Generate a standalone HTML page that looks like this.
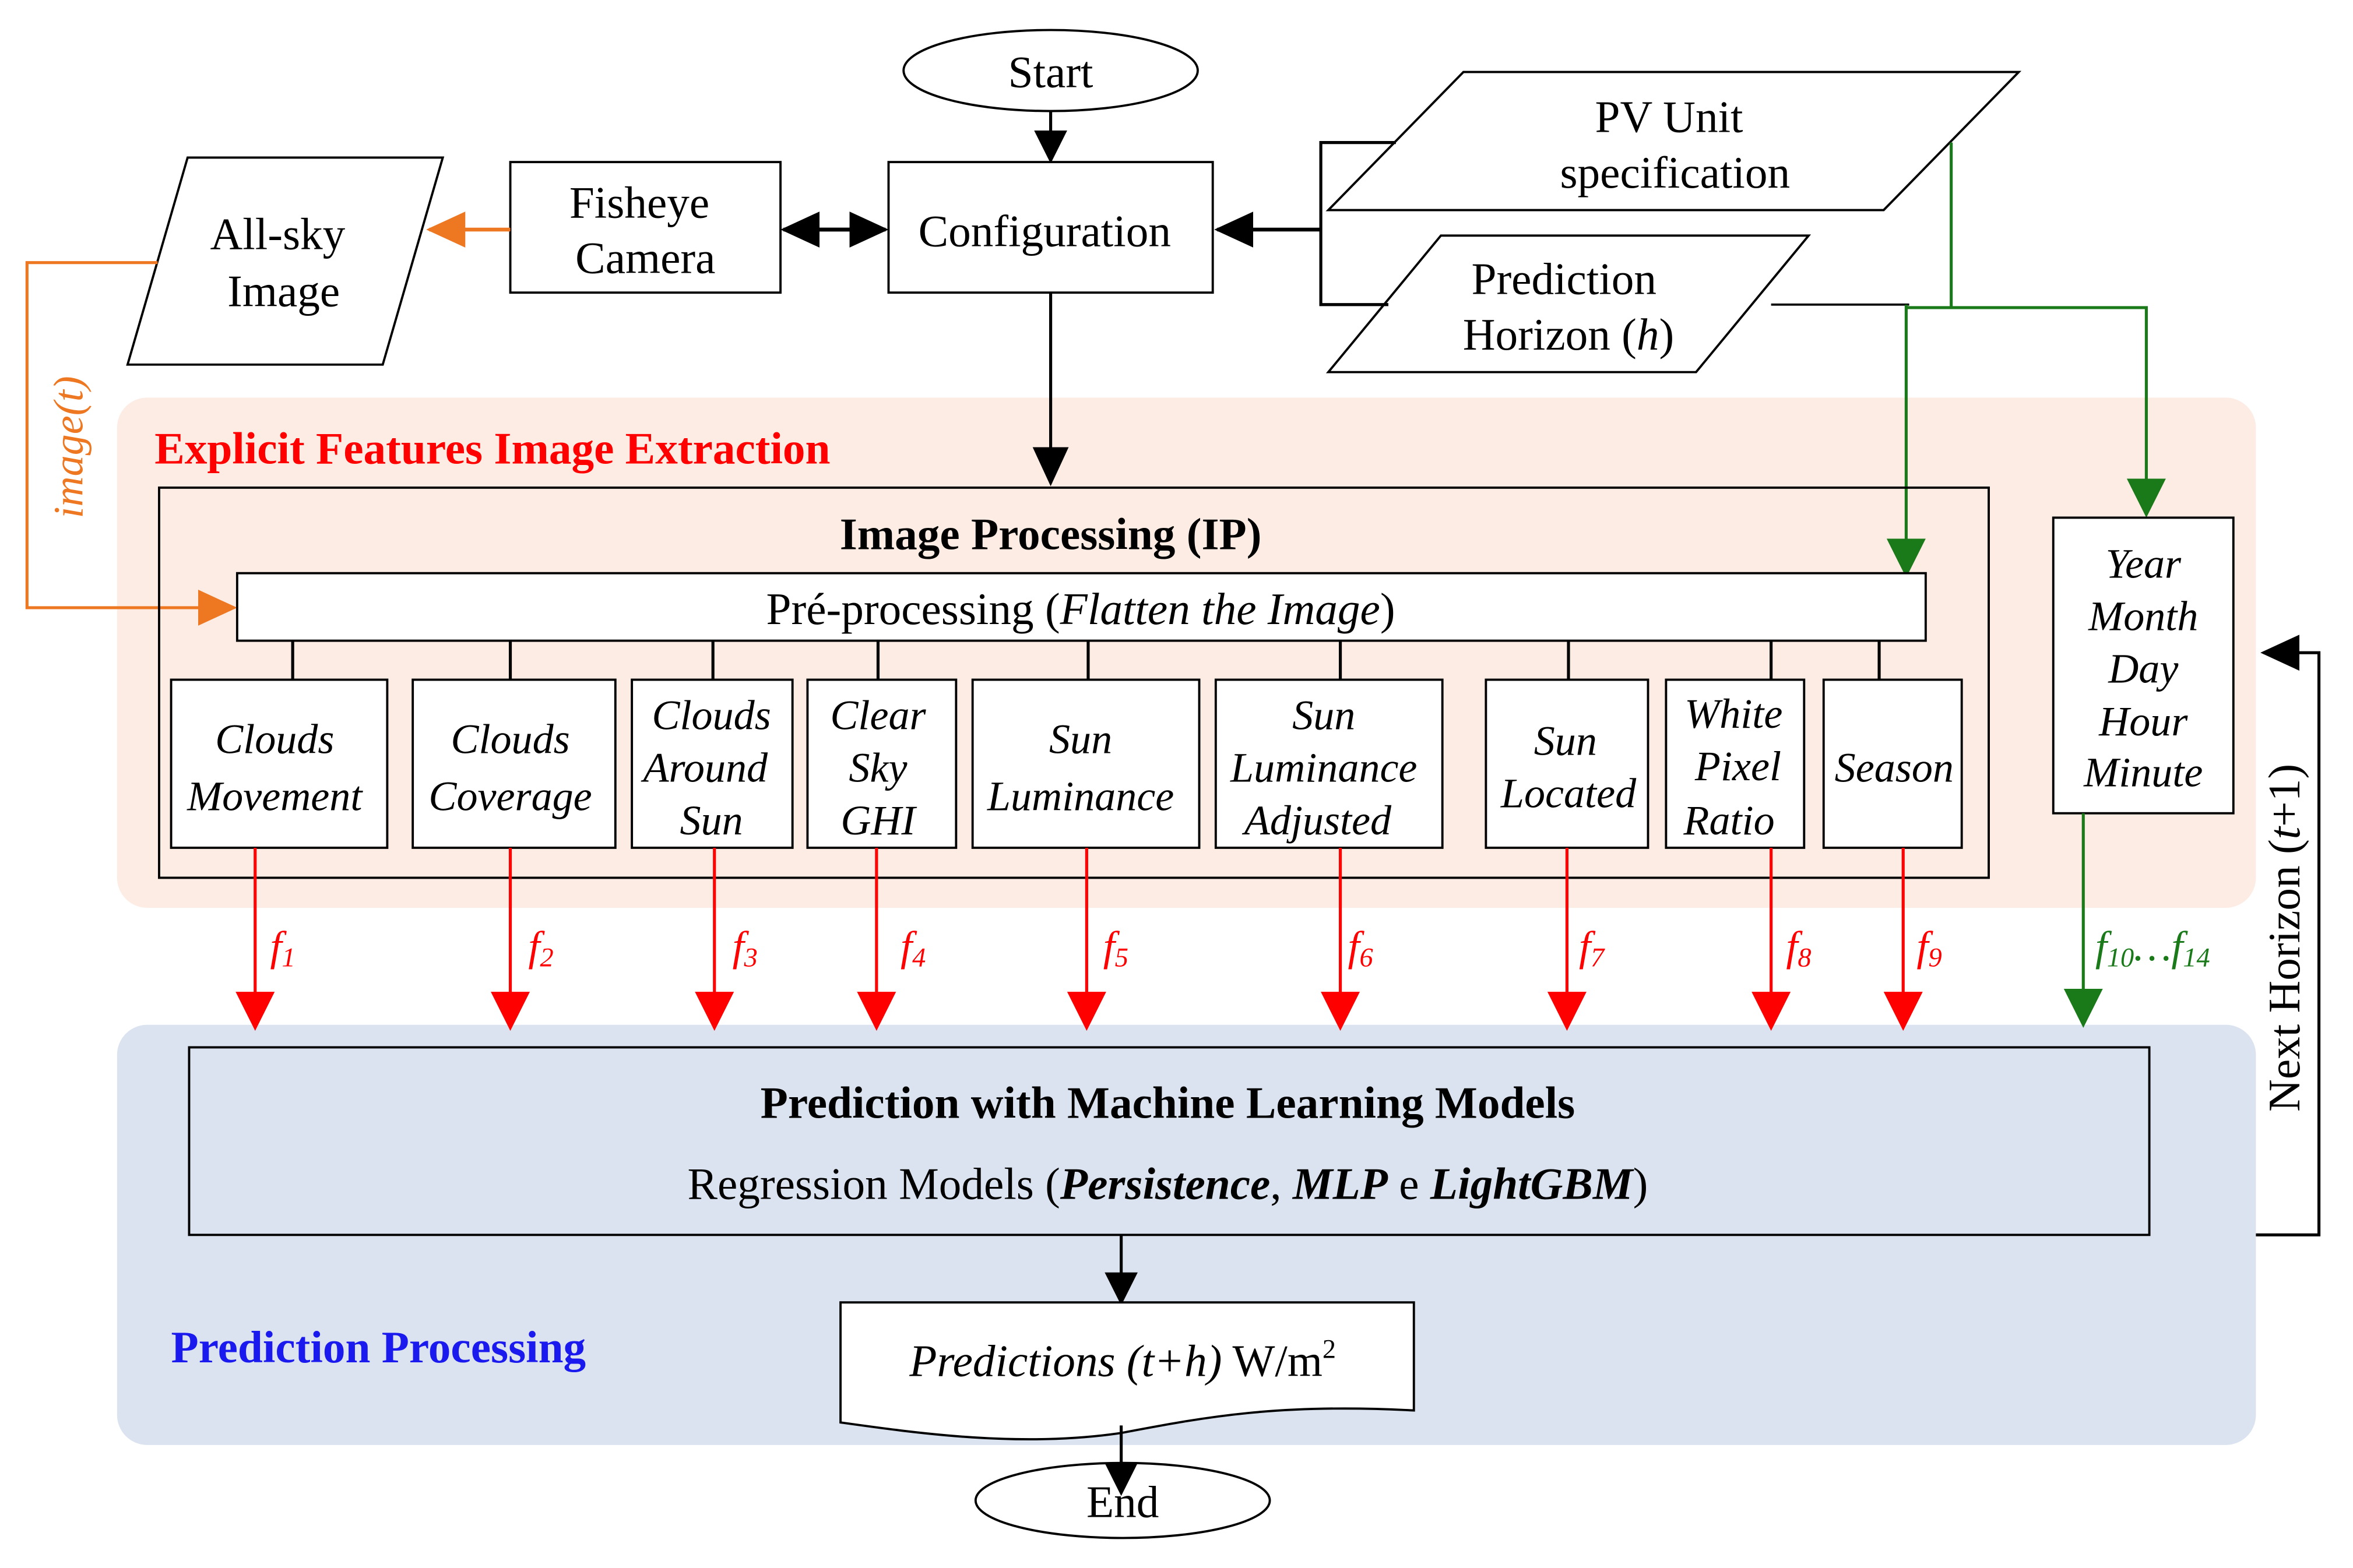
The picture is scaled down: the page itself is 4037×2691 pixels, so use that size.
<!DOCTYPE html>
<html><head><meta charset="utf-8"><style>
html,body{margin:0;padding:0;background:#fff;}
svg{display:block;}
text{font-family:"Liberation Serif",serif;fill:#000;}
.it{font-style:italic;}
</style></head><body>
<svg width="4037" height="2691" viewBox="0 0 1567 1045" preserveAspectRatio="xMinYMin meet" xmlns="http://www.w3.org/2000/svg">
<defs>
<marker id="abL" markerWidth="26" markerHeight="24" refX="24" refY="12" orient="auto" markerUnits="userSpaceOnUse"><path d="M0,0 L26,12 L0,24 z" fill="#000"/></marker>
<marker id="ar" markerWidth="26" markerHeight="26" refX="24" refY="13" orient="auto" markerUnits="userSpaceOnUse"><path d="M0,0 L26,13 L0,26 z" fill="#f00"/></marker>
<marker id="ag" markerWidth="26" markerHeight="26" refX="24" refY="13" orient="auto" markerUnits="userSpaceOnUse"><path d="M0,0 L26,13 L0,26 z" fill="#1a7a1a"/></marker>
<marker id="ao" markerWidth="26" markerHeight="24" refX="24" refY="12" orient="auto" markerUnits="userSpaceOnUse"><path d="M0,0 L26,12 L0,24 z" fill="#ee7722"/></marker>
<marker id="am" markerWidth="22" markerHeight="22" refX="20" refY="11" orient="auto" markerUnits="userSpaceOnUse"><path d="M0,0 L22,11 L0,22 z" fill="#000"/></marker>
</defs>

<rect x="78" y="265" width="1425" height="340" rx="20" fill="#fdece3"/>
<rect x="78" y="683" width="1425" height="280" rx="20" fill="#dae3ef"/>

<ellipse cx="700" cy="47" rx="98" ry="27" fill="#fff" stroke="#000" stroke-width="1.5"/>
<text x="700" y="58" font-size="30" text-anchor="middle">Start</text>
<line x1="700" y1="74" x2="700" y2="107" stroke="#000" stroke-width="2" marker-end="url(#am)"/>

<rect x="592" y="108" width="216" height="87" fill="#fff" stroke="#000" stroke-width="1.5"/>
<text x="696" y="164" font-size="30" text-anchor="middle">Configuration</text>

<rect x="340" y="108" width="180" height="87" fill="#fff" stroke="#000" stroke-width="1.5"/>
<text x="426" y="145" font-size="30" text-anchor="middle">Fisheye</text>
<text x="430" y="182" font-size="30" text-anchor="middle">Camera</text>
<line x1="545" y1="153" x2="590" y2="153" stroke="#000" stroke-width="2.5" marker-end="url(#abL)"/>
<line x1="568" y1="153" x2="522" y2="153" stroke="#000" stroke-width="2.5" marker-end="url(#abL)"/>

<polygon points="125,105 295,105 255,243 85,243" fill="#fff" stroke="#000" stroke-width="1.5"/>
<text x="185" y="166" font-size="30" text-anchor="middle">All-sky</text>
<text x="189" y="204" font-size="30" text-anchor="middle">Image</text>
<line x1="340" y1="153" x2="286" y2="153" stroke="#ee7722" stroke-width="2.5" marker-end="url(#ao)"/>
<polyline points="105,175 18,175 18,405 156,405" fill="none" stroke="#ee7722" stroke-width="2" marker-end="url(#ao)"/>
<text transform="translate(55,298) rotate(-90)" font-size="28" class="it" text-anchor="middle" style="fill:#ee7722">image(t)</text>

<polygon points="975,48 1345,48 1255,140 885,140" fill="#fff" stroke="#000" stroke-width="1.5"/>
<text x="1112" y="88" font-size="30" text-anchor="middle">PV Unit</text>
<text x="1116" y="125" font-size="30" text-anchor="middle">specification</text>
<polygon points="960,157 1205,157 1130,248 885,248" fill="#fff" stroke="#000" stroke-width="1.5"/>
<text x="1042" y="196" font-size="30" text-anchor="middle">Prediction</text>
<text x="1045" y="233" font-size="30" text-anchor="middle">Horizon (<tspan class="it">h</tspan>)</text>

<polyline points="930,95 880,95 880,203 925,203" fill="none" stroke="#000" stroke-width="2"/>
<line x1="880" y1="153" x2="811" y2="153" stroke="#000" stroke-width="2.5" marker-end="url(#abL)"/>
<line x1="1180" y1="203" x2="1272" y2="203" stroke="#000" stroke-width="1.5"/>

<polyline points="1300,95 1300,205 1430,205 1430,343" fill="none" stroke="#1a7a1a" stroke-width="2" marker-end="url(#ag)"/>
<polyline points="1270,203 1270,383" fill="none" stroke="#1a7a1a" stroke-width="2" marker-end="url(#ag)"/>
<line x1="1270" y1="205" x2="1300" y2="205" stroke="#1a7a1a" stroke-width="2"/>

<text x="103" y="309" font-size="30" font-weight="bold" style="fill:#f00">Explicit Features Image Extraction</text>
<line x1="700" y1="195" x2="700" y2="322" stroke="#000" stroke-width="2" marker-end="url(#abL)"/>

<rect x="106" y="325" width="1219" height="260" fill="none" stroke="#000" stroke-width="1.5"/>
<text x="700" y="366" font-size="30" font-weight="bold" text-anchor="middle">Image Processing (IP)</text>
<rect x="158" y="382" width="1125" height="45" fill="#fff" stroke="#000" stroke-width="1.5"/>
<text x="720" y="416" font-size="30" text-anchor="middle">Pré-processing (<tspan class="it">Flatten the Image</tspan>)</text>

<g stroke="#000" stroke-width="2">
<line x1="195" y1="427" x2="195" y2="453"/><line x1="340" y1="427" x2="340" y2="453"/>
<line x1="475" y1="427" x2="475" y2="453"/><line x1="585" y1="427" x2="585" y2="453"/>
<line x1="725" y1="427" x2="725" y2="453"/><line x1="893" y1="427" x2="893" y2="453"/>
<line x1="1045" y1="427" x2="1045" y2="453"/><line x1="1180" y1="427" x2="1180" y2="453"/>
<line x1="1252" y1="427" x2="1252" y2="453"/>
</g>

<g fill="#fff" stroke="#000" stroke-width="1.5">
<rect x="114" y="453" width="144" height="112"/>
<rect x="275" y="453" width="135" height="112"/>
<rect x="421" y="453" width="107" height="112"/>
<rect x="538" y="453" width="99" height="112"/>
<rect x="648" y="453" width="151" height="112"/>
<rect x="810" y="453" width="151" height="112"/>
<rect x="990" y="453" width="108" height="112"/>
<rect x="1110" y="453" width="92" height="112"/>
<rect x="1215" y="453" width="92" height="112"/>
<rect x="1368" y="345" width="120" height="197"/>
</g>
<g font-size="28" class="it" text-anchor="middle">
<text x="183" y="502">Clouds</text><text x="183" y="540">Movement</text>
<text x="340" y="502">Clouds</text><text x="340" y="540">Coverage</text>
<text x="474" y="486">Clouds</text><text x="470" y="521">Around</text><text x="474" y="556">Sun</text>
<text x="585" y="486">Clear</text><text x="585" y="521">Sky</text><text x="585" y="556">GHI</text>
<text x="720" y="502">Sun</text><text x="720" y="540">Luminance</text>
<text x="882" y="486">Sun</text><text x="882" y="521">Luminance</text><text x="878" y="556">Adjusted</text>
<text x="1043" y="503">Sun</text><text x="1045" y="538">Located</text>
<text x="1155" y="485">White</text><text x="1158" y="520">Pixel</text><text x="1152" y="556">Ratio</text>
<text x="1262" y="521">Season</text>
<text x="1428" y="385">Year</text><text x="1428" y="420">Month</text><text x="1428" y="455">Day</text>
<text x="1428" y="490">Hour</text><text x="1428" y="524">Minute</text>
</g>

<g stroke="#f00" stroke-width="2">
<line x1="170" y1="565" x2="170" y2="685" marker-end="url(#ar)"/>
<line x1="340" y1="565" x2="340" y2="685" marker-end="url(#ar)"/>
<line x1="476" y1="565" x2="476" y2="685" marker-end="url(#ar)"/>
<line x1="584" y1="565" x2="584" y2="685" marker-end="url(#ar)"/>
<line x1="724" y1="565" x2="724" y2="685" marker-end="url(#ar)"/>
<line x1="893" y1="565" x2="893" y2="685" marker-end="url(#ar)"/>
<line x1="1044" y1="565" x2="1044" y2="685" marker-end="url(#ar)"/>
<line x1="1180" y1="565" x2="1180" y2="685" marker-end="url(#ar)"/>
<line x1="1268" y1="565" x2="1268" y2="685" marker-end="url(#ar)"/>
</g>
<g font-size="28" class="it">
<text x="180" y="640" style="fill:#f00">f<tspan font-size="18" dy="4">1</tspan></text>
<text x="352" y="640" style="fill:#f00">f<tspan font-size="18" dy="4">2</tspan></text>
<text x="488" y="640" style="fill:#f00">f<tspan font-size="18" dy="4">3</tspan></text>
<text x="600" y="640" style="fill:#f00">f<tspan font-size="18" dy="4">4</tspan></text>
<text x="735" y="640" style="fill:#f00">f<tspan font-size="18" dy="4">5</tspan></text>
<text x="898" y="640" style="fill:#f00">f<tspan font-size="18" dy="4">6</tspan></text>
<text x="1052" y="640" style="fill:#f00">f<tspan font-size="18" dy="4">7</tspan></text>
<text x="1190" y="640" style="fill:#f00">f<tspan font-size="18" dy="4">8</tspan></text>
<text x="1277" y="640" style="fill:#f00">f<tspan font-size="18" dy="4">9</tspan></text>
</g>
<line x1="1388" y1="542" x2="1388" y2="683" stroke="#1a7a1a" stroke-width="2" marker-end="url(#ag)"/>
<text x="1396" y="640" font-size="28" class="it" style="fill:#1a7a1a">f<tspan font-size="18" dy="4">10</tspan><tspan dy="-4">…</tspan>f<tspan font-size="18" dy="4">14</tspan></text>

<rect x="126" y="698" width="1306" height="125" fill="none" stroke="#000" stroke-width="1.5"/>
<text x="778" y="745" font-size="30" font-weight="bold" text-anchor="middle">Prediction with Machine Learning Models</text>
<text x="778" y="799" font-size="30" text-anchor="middle">Regression Models (<tspan font-weight="bold" class="it">Persistence</tspan>, <tspan font-weight="bold" class="it">MLP</tspan> e <tspan font-weight="bold" class="it">LightGBM</tspan>)</text>

<polyline points="1503,823 1545,823 1545,435 1508,435" fill="none" stroke="#000" stroke-width="2" marker-end="url(#abL)"/>
<text transform="translate(1532,625) rotate(-90)" font-size="30" text-anchor="middle">Next Horizon (<tspan class="it">t</tspan>+1)</text>

<line x1="747" y1="823" x2="747" y2="868" stroke="#000" stroke-width="2" marker-end="url(#am)"/>
<path d="M560,868 L942,868 L942,940 C850,935 800,945 747,955 C680,965 610,955 560,948 Z" fill="#fff" stroke="#000" stroke-width="1.5"/>
<text x="748" y="917" font-size="30" text-anchor="middle"><tspan class="it">Predictions (t+h)</tspan> W/m<tspan font-size="18" dy="-12">2</tspan></text>

<text x="114" y="908" font-size="30" font-weight="bold" style="fill:#1a1aee">Prediction Processing</text>

<ellipse cx="748" cy="1000" rx="98" ry="25" fill="#fff" stroke="#000" stroke-width="1.5"/>
<line x1="747" y1="950" x2="747" y2="995" stroke="#000" stroke-width="2" marker-end="url(#am)"/>
<text x="748" y="1011" font-size="30" text-anchor="middle">End</text>
</svg>
</body></html>
